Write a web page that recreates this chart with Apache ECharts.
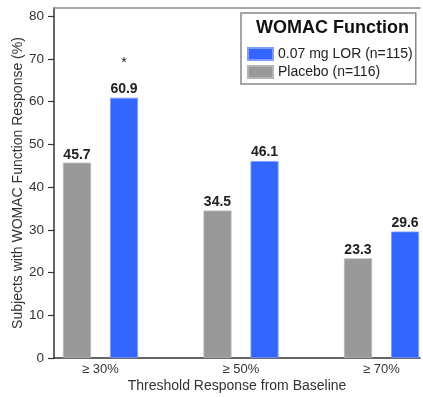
<!DOCTYPE html>
<html>
<head>
<meta charset="utf-8">
<script src="https://cdn.jsdelivr.net/npm/echarts@6/dist/echarts.min.js"></script>
<style>html,body{margin:0;padding:0;background:#fff}#c{width:423px;height:397px}</style>
</head>
<body>
<div id="c"></div>
<script>
const categories = ['≥ 30%', '≥ 50%', '≥ 70%'];
const placebo = [45.7, 34.5, 23.3];
const lor = [60.9, 46.1, 29.6];
const significance = ['*', '', ''];
const yTicks = [0, 10, 20, 30, 40, 50, 60, 70, 80];
const seriesNames = ['0.07 mg LOR (n=115)', 'Placebo (n=116)'];

const font = '"Liberation Sans", Arial, sans-serif';
const chart = echarts.init(document.getElementById('c'), null, {renderer: 'canvas'});

const xMin = -0.331, xMax = 2.274;

chart.setOption({
  animation: false,
  textStyle: {fontFamily: font},
  title: {
    text: 'WOMAC Function',
    left: 256, top: 19, padding: 0, z: 10,
    textStyle: {fontFamily: font, fontSize: 18, fontWeight: 'bold', color: '#111'}
  },
  legend: {
    data: seriesNames,
    orient: 'vertical',
    left: 241, top: 13,
    padding: [34, 3, 5, 6],
    itemGap: 4,
    itemWidth: 25, itemHeight: 12,
    icon: 'rect',
    borderColor: '#888', borderWidth: 1.5,
    backgroundColor: '#fff',
    textStyle: {fontFamily: font, fontSize: 14, color: '#222'}
  },
  grid: {left: 54, right: 3, top: 8, bottom: 39, containLabel: false, outerBoundsMode: 'none'},
  xAxis: [{
    type: 'value', min: xMin, max: xMax,
    splitLine: {show: false},
    axisTick: {show: false},
    axisLine: {show: true, onZero: false, lineStyle: {color: '#333', width: 1.5}},
    axisLabel: {
      customValues: [0, 1, 2],
      formatter: v => categories[Math.round(v)],
      fontFamily: font, fontSize: 13, color: '#333', margin: 5
    },
    name: 'Threshold Response from Baseline',
    nameLocation: 'middle', nameGap: 21, nameMoveOverlap: false,
    nameTextStyle: {fontFamily: font, fontSize: 14, color: '#333', verticalAlign: 'top'}
  }, {
    type: 'value', min: xMin, max: xMax, position: 'top',
    splitLine: {show: false}, axisTick: {show: false}, axisLabel: {show: false},
    axisLine: {show: true, onZero: false, lineStyle: {color: '#888', width: 1.5}}
  }],
  yAxis: {
    type: 'value', min: 0, max: 81.9,
    splitLine: {show: false},
    axisLine: {show: true, onZero: false, lineStyle: {color: '#333', width: 1.5}},
    axisTick: {show: true, length: 6, customValues: yTicks, lineStyle: {color: '#333', width: 1.2}},
    axisLabel: {customValues: yTicks, fontFamily: font, fontSize: 13.5, color: '#333', margin: 10},
    name: 'Subjects with WOMAC Function Response (%)',
    nameLocation: 'middle', nameGap: 29, nameMoveOverlap: false,
    nameTextStyle: {fontFamily: font, fontSize: 14, color: '#333'}
  },
  series: [{
    name: seriesNames[1], type: 'bar',
    data: placebo.map((v, i) => [i, v]),
    barWidth: 28, barGap: '68%',
    itemStyle: {color: '#999999', borderColor: '#b5b5b5', borderWidth: 0.8},
    label: {
      show: true, position: 'top', distance: 1,
      formatter: p => p.value[1].toFixed(1),
      fontFamily: font, fontSize: 14, fontWeight: 'bold', color: '#222'
    }
  }, {
    name: seriesNames[0], type: 'bar',
    data: lor.map((v, i) => [i, v]),
    barWidth: 28, barGap: '68%',
    itemStyle: {color: '#3366ff', borderColor: '#7f9cff', borderWidth: 0.8},
    label: {
      show: true, position: 'top', distance: 1,
      formatter: p => (significance[p.dataIndex] ? '{s|' + significance[p.dataIndex] + '}\n' : '') + '{v|' + p.value[1].toFixed(1) + '}',
      rich: {
        s: {fontFamily: font, fontSize: 14, color: '#222', lineHeight: 37},
        v: {fontFamily: font, fontSize: 14, fontWeight: 'bold', color: '#222', lineHeight: 15}
      }
    }
  }]
});
</script>
</body>
</html>
